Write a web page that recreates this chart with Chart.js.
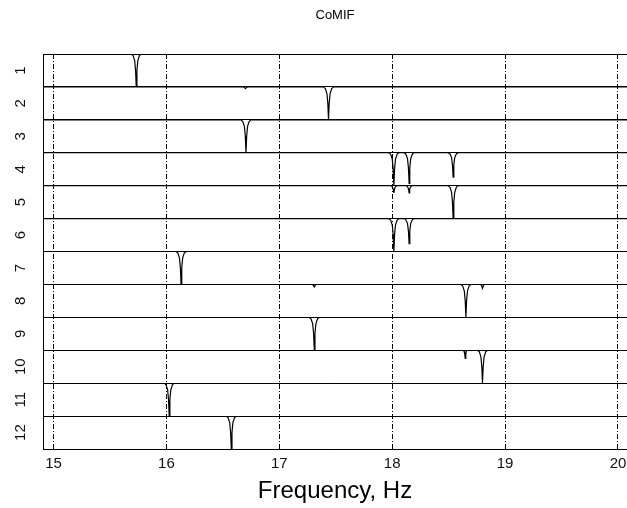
<!DOCTYPE html>
<html>
<head>
<meta charset="utf-8">
<title>CoMIF</title>
<script src="https://cdn.jsdelivr.net/npm/chart.js@4.4.1/dist/chart.umd.min.js"></script>
<style>
  html, body { margin: 0; padding: 0; background: #fff; overflow: hidden; }
  #wrap { width: 627px; height: 508px; position: relative; }
</style>
</head>
<body>
<div id="wrap"><canvas id="mifChart"></canvas></div>
<script>
// row names (one MIF curve per row) and x ticks
const rowNames = ['1', '2', '3', '4', '5', '6', '7', '8', '9', '10', '11', '12'];
const xTicks = [15, 16, 17, 18, 19, 20];
const xMin = 14.907;
const xMax = 20.08;

// MIF values, [frequency Hz, value], 1 = flat, dips towards 0
const row1 = [[14.907, 1], [15.688, 1], [15.705, 0.95], [15.719, 0.8], [15.727, 0.5], [15.733, 0], [15.739, 0.5], [15.747, 0.8], [15.761, 0.95], [15.778, 1], [20.08, 1]];
const row2 = [[14.907, 1], [16.68, 1], [16.69, 0.985], [16.70, 0.95], [16.71, 0.985], [16.72, 1],
  [17.391, 1], [17.408, 0.95], [17.422, 0.8], [17.430, 0.5], [17.436, 0], [17.442, 0.5], [17.450, 0.8], [17.464, 0.95], [17.481, 1], [20.08, 1]];
const row3 = [[14.907, 1], [16.66, 1], [16.677, 0.95], [16.691, 0.8], [16.699, 0.5], [16.705, 0], [16.711, 0.5], [16.719, 0.8], [16.733, 0.95], [16.75, 1], [20.08, 1]];
const row4 = [[14.907, 1],
  [17.97, 1], [17.987, 0.95], [18.001, 0.8], [18.009, 0.5], [18.015, 0], [18.021, 0.5], [18.029, 0.8], [18.043, 0.95], [18.06, 1],
  [18.105, 1], [18.122, 0.955], [18.136, 0.815], [18.144, 0.535], [18.15, 0.07], [18.156, 0.535], [18.164, 0.815], [18.178, 0.955], [18.195, 1],
  [18.495, 1], [18.512, 0.963], [18.526, 0.852], [18.534, 0.63], [18.54, 0.26], [18.546, 0.63], [18.554, 0.852], [18.568, 0.963], [18.585, 1],
  [20.08, 1]];
const row5 = [[14.907, 1],
  [17.99, 1], [18.003, 0.96], [18.01, 0.89], [18.015, 0.78], [18.02, 0.89], [18.027, 0.96], [18.04, 1],
  [18.125, 1], [18.138, 0.96], [18.145, 0.89], [18.15, 0.78], [18.155, 0.89], [18.162, 0.96], [18.175, 1],
  [18.495, 1], [18.512, 0.95], [18.526, 0.8], [18.534, 0.5], [18.54, 0], [18.546, 0.5], [18.554, 0.8], [18.568, 0.95], [18.585, 1],
  [20.08, 1]];
const row6 = [[14.907, 1],
  [17.97, 1], [17.987, 0.95], [18.001, 0.8], [18.009, 0.5], [18.015, 0], [18.021, 0.5], [18.029, 0.8], [18.043, 0.95], [18.06, 1],
  [18.105, 1], [18.122, 0.962], [18.136, 0.848], [18.144, 0.62], [18.15, 0.24], [18.156, 0.62], [18.164, 0.848], [18.178, 0.962], [18.195, 1],
  [20.08, 1]];
const row7 = [[14.907, 1], [16.085, 1], [16.102, 0.95], [16.116, 0.8], [16.124, 0.5], [16.13, 0], [16.136, 0.5], [16.144, 0.8], [16.158, 0.95], [16.175, 1], [20.08, 1]];
const row8 = [[14.907, 1],
  [17.29, 1], [17.30, 0.985], [17.31, 0.92], [17.32, 0.985], [17.33, 1],
  [18.608, 1], [18.625, 0.95], [18.639, 0.8], [18.647, 0.5], [18.653, 0], [18.659, 0.5], [18.667, 0.8], [18.681, 0.95], [18.698, 1],
  [18.78, 1], [18.79, 0.98], [18.80, 0.88], [18.81, 0.98], [18.82, 1],
  [20.08, 1]];
const row9 = [[14.907, 1], [17.265, 1], [17.282, 0.95], [17.296, 0.8], [17.304, 0.5], [17.31, 0], [17.316, 0.5], [17.324, 0.8], [17.338, 0.95], [17.355, 1], [20.08, 1]];
const row10 = [[14.907, 1],
  [18.627, 1], [18.637, 0.97], [18.642, 0.9], [18.647, 0.75], [18.652, 0.9], [18.657, 0.97], [18.667, 1],
  [18.755, 1], [18.772, 0.95], [18.786, 0.8], [18.794, 0.5], [18.80, 0], [18.806, 0.5], [18.814, 0.8], [18.828, 0.95], [18.845, 1],
  [20.08, 1]];
const row11 = [[14.907, 1], [15.98, 1], [15.997, 0.95], [16.011, 0.8], [16.019, 0.5], [16.025, 0], [16.031, 0.5], [16.039, 0.8], [16.053, 0.95], [16.07, 1], [20.08, 1]];
const row12 = [[14.907, 1], [16.53, 1], [16.547, 0.95], [16.561, 0.8], [16.569, 0.5], [16.575, 0], [16.581, 0.5], [16.589, 0.8], [16.603, 0.95], [16.62, 1], [20.08, 1]];

const rows = [row1, row2, row3, row4, row5, row6, row7, row8, row9, row10, row11, row12];

const fontFamily = "'Liberation Sans', Arial, sans-serif";

// one stacked y axis per row
const scales = {
    x: {
        type: 'linear',
        min: xMin,
        max: xMax,
        afterBuildTicks: axis => { axis.ticks = xTicks.map(v => ({ value: v })); },
        afterFit: axis => { axis.height = 59; axis.paddingLeft = 0; axis.paddingRight = 0; },
        grid: { color: '#000', lineWidth: 1, drawTicks: false },
        border: { display: true, color: '#000', width: 1, dash: [5, 2, 1, 2] },
        ticks: { color: '#111', font: { family: fontFamily, size: 15 }, padding: 6, maxRotation: 0 },
        title: {
            display: true,
            text: 'Frequency, Hz',
            color: '#000',
            font: { family: fontFamily, size: 24 },
            padding: { top: 0, bottom: 2 }
        }
    }
};

rowNames.forEach((name, i) => {
    scales['r' + (i + 1)] = {
        type: 'linear',
        position: 'left',
        stack: 'rows',
        stackWeight: 1,
        weight: rowNames.length - i,
        offset: false,
        min: 0,
        max: 1,
        afterBuildTicks: axis => { axis.ticks = [{ value: 0 }, { value: 1 }]; },
        afterFit: axis => { axis.width = 43; },
        grid: { color: '#000', lineWidth: 1, drawTicks: false },
        border: { display: true, color: '#000', width: 1 },
        ticks: { display: false },
        title: {
            display: true,
            text: name,
            color: '#111',
            font: { family: fontFamily, size: 15 },
            padding: { top: 12, bottom: 0 }
        }
    };
});

const datasets = rows.map((data, i) => ({
    label: 'Row ' + rowNames[i],
    data: data,
    yAxisID: 'r' + (i + 1),
    borderColor: '#000',
    borderWidth: 1.2,
    pointRadius: 0,
    tension: 0,
    fill: false
}));

new Chart(document.getElementById('mifChart'), {
    type: 'line',
    data: { datasets: datasets },
    options: {
        responsive: true,
        maintainAspectRatio: false,
        animation: false,
        layout: { padding: 0 },
        scales: scales,
        plugins: {
            legend: { display: false },
            tooltip: { enabled: false },
            title: {
                display: true,
                text: 'CoMIF',
                color: '#000',
                fullSize: false,
                font: { family: fontFamily, size: 13, weight: 'normal' },
                padding: { top: 7.2, bottom: 31.2 }
            }
        }
    }
});
</script>
</body>
</html>
